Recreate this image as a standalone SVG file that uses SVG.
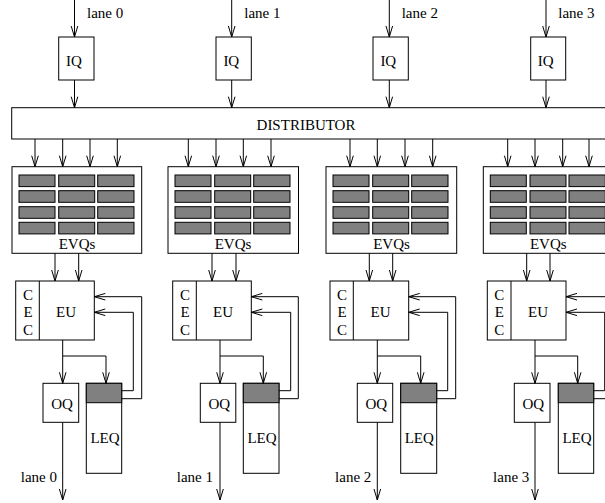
<svg xmlns="http://www.w3.org/2000/svg" width="605" height="503" viewBox="0 0 605 503">
<defs>
<marker id="a" markerUnits="userSpaceOnUse" markerWidth="14" markerHeight="10" viewBox="-12 -5 14 10" refX="0" refY="0" orient="auto" overflow="visible">
<path d="M-11,-3.3 L0,0 L-11,3.3" fill="none" stroke="#000" stroke-width="1"/>
</marker>
<g id="cells">
<rect x="7" y="8.3" width="36" height="11.6"/><rect x="46.7" y="8.3" width="36" height="11.6"/><rect x="85.7" y="8.3" width="36.3" height="11.6"/>
<rect x="7" y="24" width="36" height="11.6"/><rect x="46.7" y="24" width="36" height="11.6"/><rect x="85.7" y="24" width="36.3" height="11.6"/>
<rect x="7" y="40" width="36" height="11.6"/><rect x="46.7" y="40" width="36" height="11.6"/><rect x="85.7" y="40" width="36.3" height="11.6"/>
<rect x="7" y="55.6" width="36" height="11.6"/><rect x="46.7" y="55.6" width="36" height="11.6"/><rect x="85.7" y="55.6" width="36.3" height="11.6"/>
</g>
</defs>
<style>
.box{fill:#fff;stroke:#000;stroke-width:1}
.cell{fill:#808080;stroke:#000;stroke-width:1}
.t{font-family:"Liberation Serif","Times New Roman",serif;font-size:15px;fill:#000}
.m{text-anchor:middle}
.e{text-anchor:end}
.c{fill:none;stroke:#000;stroke-width:1;marker-end:url(#a)}
.l{fill:none;stroke:#000;stroke-width:1}
</style>
<rect width="605" height="503" fill="#fff"/>

<g id="distributor">
<rect class="box" x="11.7" y="107.7" width="620" height="31.3"/>
<text class="t m" x="306" y="130">DISTRIBUTOR</text>
</g>

<!-- lane 0 -->
<g id="iq0"><rect class="box" x="58.7" y="37" width="35.3" height="43"/><text class="t m" x="74" y="66">IQ</text></g>
<g id="evq0"><rect class="box" x="12" y="166.7" width="129.7" height="86.6"/><use href="#cells" class="cell" x="12" y="166.7"/><text class="t m" x="77" y="249">EVQs</text></g>
<g id="eu0"><rect class="box" x="15.7" y="281" width="78.6" height="59"/><line class="l" x1="39.3" y1="281" x2="39.3" y2="340"/>
<text class="t m" x="28" y="299.5">C</text><text class="t m" x="28" y="317">E</text><text class="t m" x="28" y="335">C</text><text class="t m" x="66" y="317">EU</text></g>
<g id="oq0"><rect class="box" x="43" y="383.3" width="35.7" height="39"/><text class="t m" x="62" y="409">OQ</text></g>
<g id="leq0"><rect class="box" x="86.3" y="383.3" width="35.4" height="90"/><rect class="cell" x="86.3" y="383.3" width="35.4" height="19.4"/><text class="t m" x="105" y="443">LEQ</text></g>

<!-- lane 1 -->
<g id="iq1"><rect class="box" x="216" y="37" width="35.3" height="43"/><text class="t m" x="231.3" y="66">IQ</text></g>
<g id="evq1"><rect class="box" x="168" y="166.7" width="130.5" height="86.6"/><use href="#cells" class="cell" x="168" y="166.7"/><text class="t m" x="233" y="249">EVQs</text></g>
<g id="eu1"><rect class="box" x="172.7" y="281" width="78.6" height="59"/><line class="l" x1="196.3" y1="281" x2="196.3" y2="340"/>
<text class="t m" x="185" y="299.5">C</text><text class="t m" x="185" y="317">E</text><text class="t m" x="185" y="335">C</text><text class="t m" x="223" y="317">EU</text></g>
<g id="oq1"><rect class="box" x="200.3" y="383.3" width="35.5" height="39"/><text class="t m" x="219.3" y="409">OQ</text></g>
<g id="leq1"><rect class="box" x="243.3" y="383.3" width="35.7" height="90"/><rect class="cell" x="243.3" y="383.3" width="35.7" height="19.4"/><text class="t m" x="262" y="443">LEQ</text></g>

<!-- lane 2 -->
<g id="iq2"><rect class="box" x="373" y="37" width="35.3" height="43"/><text class="t m" x="388.3" y="66">IQ</text></g>
<g id="evq2"><rect class="box" x="326" y="166.7" width="130.7" height="86.6"/><use href="#cells" class="cell" x="326" y="166.7"/><text class="t m" x="391.5" y="249">EVQs</text></g>
<g id="eu2"><rect class="box" x="330" y="281" width="78.7" height="59"/><line class="l" x1="353.3" y1="281" x2="353.3" y2="340"/>
<text class="t m" x="342" y="299.5">C</text><text class="t m" x="342" y="317">E</text><text class="t m" x="342" y="335">C</text><text class="t m" x="380.5" y="317">EU</text></g>
<g id="oq2"><rect class="box" x="357.3" y="383.3" width="35.4" height="39"/><text class="t m" x="376.3" y="409">OQ</text></g>
<g id="leq2"><rect class="box" x="400.7" y="383.3" width="36" height="90"/><rect class="cell" x="400.7" y="383.3" width="36" height="19.4"/><text class="t m" x="419.3" y="443">LEQ</text></g>

<!-- lane 3 -->
<g id="iq3"><rect class="box" x="530.7" y="37" width="35" height="43"/><text class="t m" x="545.7" y="66">IQ</text></g>
<g id="evq3"><rect class="box" x="483.3" y="166.7" width="130.5" height="86.6"/><use href="#cells" class="cell" x="483.3" y="166.7"/><text class="t m" x="548.3" y="249">EVQs</text></g>
<g id="eu3"><rect class="box" x="487.3" y="281" width="78.7" height="59"/><line class="l" x1="511" y1="281" x2="511" y2="340"/>
<text class="t m" x="499.3" y="299.5">C</text><text class="t m" x="499.3" y="317">E</text><text class="t m" x="499.3" y="335">C</text><text class="t m" x="538" y="317">EU</text></g>
<g id="oq3"><rect class="box" x="514.3" y="383.3" width="35.7" height="39"/><text class="t m" x="533.3" y="409">OQ</text></g>
<g id="leq3"><rect class="box" x="558.3" y="383.3" width="35.4" height="90"/><rect class="cell" x="558.3" y="383.3" width="35.4" height="19.4"/><text class="t m" x="577" y="443">LEQ</text></g>

<g id="connectors">
<!-- lane 0 -->
<path class="c" d="M74.5,0 V37"/>
<path class="c" d="M74.5,80 V107.7"/>
<path class="c" d="M35,139 V166.7"/><path class="c" d="M62.7,139 V166.7"/><path class="c" d="M90,139 V166.7"/><path class="c" d="M117.3,139 V166.7"/>
<path class="c" d="M55,253.3 V281"/><path class="c" d="M78.7,253.3 V281"/>
<path class="c" d="M62.7,340 V383.3"/>
<path class="c" d="M62.7,356 H106 V383.3"/>
<path class="c" d="M62.7,422.3 V500"/>
<path class="c" d="M121.7,390.7 H133.3 V312.3 H94.3"/>
<path class="c" d="M121.7,398.7 H141.7 V296.7 H94.3"/>
<!-- lane 1 -->
<path class="c" d="M231.7,0 V37"/>
<path class="c" d="M231.7,80 V107.7"/>
<path class="c" d="M188.3,139 V166.7"/><path class="c" d="M216,139 V166.7"/><path class="c" d="M243.3,139 V166.7"/><path class="c" d="M271,139 V166.7"/>
<path class="c" d="M212,253.3 V281"/><path class="c" d="M236,253.3 V281"/>
<path class="c" d="M220,340 V383.3"/>
<path class="c" d="M220,356 H263.3 V383.3"/>
<path class="c" d="M220,422.3 V500"/>
<path class="c" d="M279,390.7 H290.7 V312.3 H251.3"/>
<path class="c" d="M279,398.7 H298.3 V296.7 H251.3"/>
<!-- lane 2 -->
<path class="c" d="M389.3,0 V37"/>
<path class="c" d="M389.3,80 V107.7"/>
<path class="c" d="M350,139 V166.7"/><path class="c" d="M377.3,139 V166.7"/><path class="c" d="M405,139 V166.7"/><path class="c" d="M432.7,139 V166.7"/>
<path class="c" d="M369.3,253.3 V281"/><path class="c" d="M392.7,253.3 V281"/>
<path class="c" d="M377.3,340 V383.3"/>
<path class="c" d="M377.3,356 H420.7 V383.3"/>
<path class="c" d="M377.3,422.3 V500"/>
<path class="c" d="M436.7,390.7 H447.7 V312.3 H408.7"/>
<path class="c" d="M436.7,398.7 H455.7 V296.7 H408.7"/>
<!-- lane 3 -->
<path class="c" d="M546,0 V37"/>
<path class="c" d="M546,80 V107.7"/>
<path class="c" d="M507.7,139 V166.7"/><path class="c" d="M535,139 V166.7"/><path class="c" d="M562.7,139 V166.7"/><path class="c" d="M589,139 V166.7"/>
<path class="c" d="M526.7,253.3 V281"/><path class="c" d="M550,253.3 V281"/>
<path class="c" d="M535,340 V383.3"/>
<path class="c" d="M535,356 H577.7 V383.3"/>
<path class="c" d="M535,422.3 V500"/>
<path class="c" d="M593.7,390.7 H604.7 V312.3 H566"/>
<path class="c" d="M593.7,398.7 H613 V296.7 H566"/>
</g>

<g id="labels">
<text class="t" x="87" y="17.5">lane 0</text>
<text class="t" x="244.3" y="17.5">lane 1</text>
<text class="t" x="401.7" y="17.5">lane 2</text>
<text class="t" x="558.3" y="17.5">lane 3</text>
<text class="t e" x="57" y="482">lane 0</text>
<text class="t e" x="213" y="482">lane 1</text>
<text class="t e" x="371.3" y="482">lane 2</text>
<text class="t e" x="529.3" y="482">lane 3</text>
</g>
</svg>
